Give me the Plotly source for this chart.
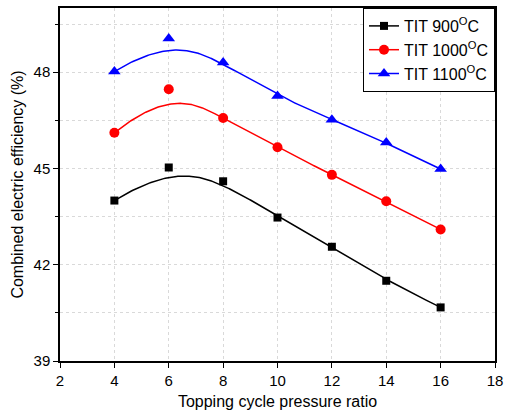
import numpy as np
import plotly.graph_objects as go

pressure_ratio = [4, 6, 8, 10, 12, 14, 16]
tit_900 = [44.0, 45.03, 44.6, 43.47, 42.56, 41.5, 40.67]
tit_1000 = [46.11, 47.47, 46.57, 45.66, 44.8, 43.98, 43.1]
tit_1100 = [48.02, 49.05, 48.3, 47.26, 46.52, 45.81, 44.98]
series_names = ["TIT 900<sup>O</sup>C", "TIT 1000<sup>O</sup>C", "TIT 1100<sup>O</sup>C"]
colors = ["black", "red", "blue"]
symbols = ["square", "circle", "triangle-up"]
sizes = [8, 10, 11]


def bspline(xs, ys, n=300):
    """Clamped cubic B-spline using data points as control points (Origin-style)."""
    P = np.column_stack([xs, ys]).astype(float)
    k = 3
    m = len(P)
    inner = np.arange(1, m - k)
    knots = np.concatenate([[0] * (k + 1), inner, [m - k] * (k + 1)]).astype(float)
    ts = np.linspace(0, m - k, n)
    out = []
    for t in ts:
        if t >= knots[m]:
            s = m - 1
        else:
            s = np.searchsorted(knots, t, side="right") - 1
        d = [P[j + s - k].copy() for j in range(k + 1)]
        for r in range(1, k + 1):
            for j in range(k, r - 1, -1):
                denom = knots[j + 1 + s - r] - knots[j + s - k]
                a = 0 if denom == 0 else (t - knots[j + s - k]) / denom
                d[j] = (1 - a) * d[j - 1] + a * d[j]
        out.append(d[k])
    out = np.array(out)
    return out[:, 0], out[:, 1]


fig = go.Figure()
for ys, name, c, sym, sz in zip([tit_900, tit_1000, tit_1100], series_names, colors, symbols, sizes):
    cx, cy = bspline(pressure_ratio, ys)
    fig.add_trace(go.Scatter(x=cx, y=cy, mode="lines", line=dict(color=c, width=1.5),
                             showlegend=False, hoverinfo="skip"))
    fig.add_trace(go.Scatter(x=pressure_ratio, y=ys, mode="markers", name=name,
                             marker=dict(symbol=sym, size=sz, color=c), showlegend=False))

for ys, name, c, sym, sz in zip([tit_900, tit_1000, tit_1100], series_names, colors, symbols, sizes):
    fig.add_trace(go.Scatter(x=[None], y=[None], mode="lines+markers", name=name,
                             line=dict(color=c, width=1.5),
                             marker=dict(symbol=sym, size=sz, color=c)))

font = "Liberation Sans, Arial, sans-serif"
fig.update_layout(
    width=509, height=417,
    margin=dict(l=60, r=9, t=6, b=56),
    plot_bgcolor="white", paper_bgcolor="white",
    font=dict(family=font, size=15, color="black"),
    legend=dict(x=1, y=1, xanchor="right", yanchor="top",
                bordercolor="black", borderwidth=1, bgcolor="white",
                font=dict(size=16), tracegroupgap=0, itemwidth=30),
    xaxis=dict(range=[2, 18], dtick=2, tick0=2, showline=True, linecolor="black", linewidth=1.5,
               mirror=True, ticks="outside", ticklen=5, tickcolor="black",
               showgrid=True, gridcolor="#d9d9d9", griddash="dot", zeroline=False,
               title=dict(text="Topping cycle pressure ratio", font=dict(size=16), standoff=8)),
    yaxis=dict(range=[39, 50], dtick=3, tick0=39, showline=True, linecolor="black", linewidth=1.5,
               mirror=True, ticks="outside", ticklen=5, tickcolor="black",
               showgrid=True, gridcolor="#d9d9d9", griddash="dot", zeroline=False,
               minor=dict(dtick=1.5, tick0=39, ticks="outside", ticklen=3, tickcolor="black",
                          showgrid=True, gridcolor="#d9d9d9", griddash="dot"),
               title=dict(text="Combined electric efficiency (%)", font=dict(size=16), standoff=6)),
)

fig.write_html("out.html")
